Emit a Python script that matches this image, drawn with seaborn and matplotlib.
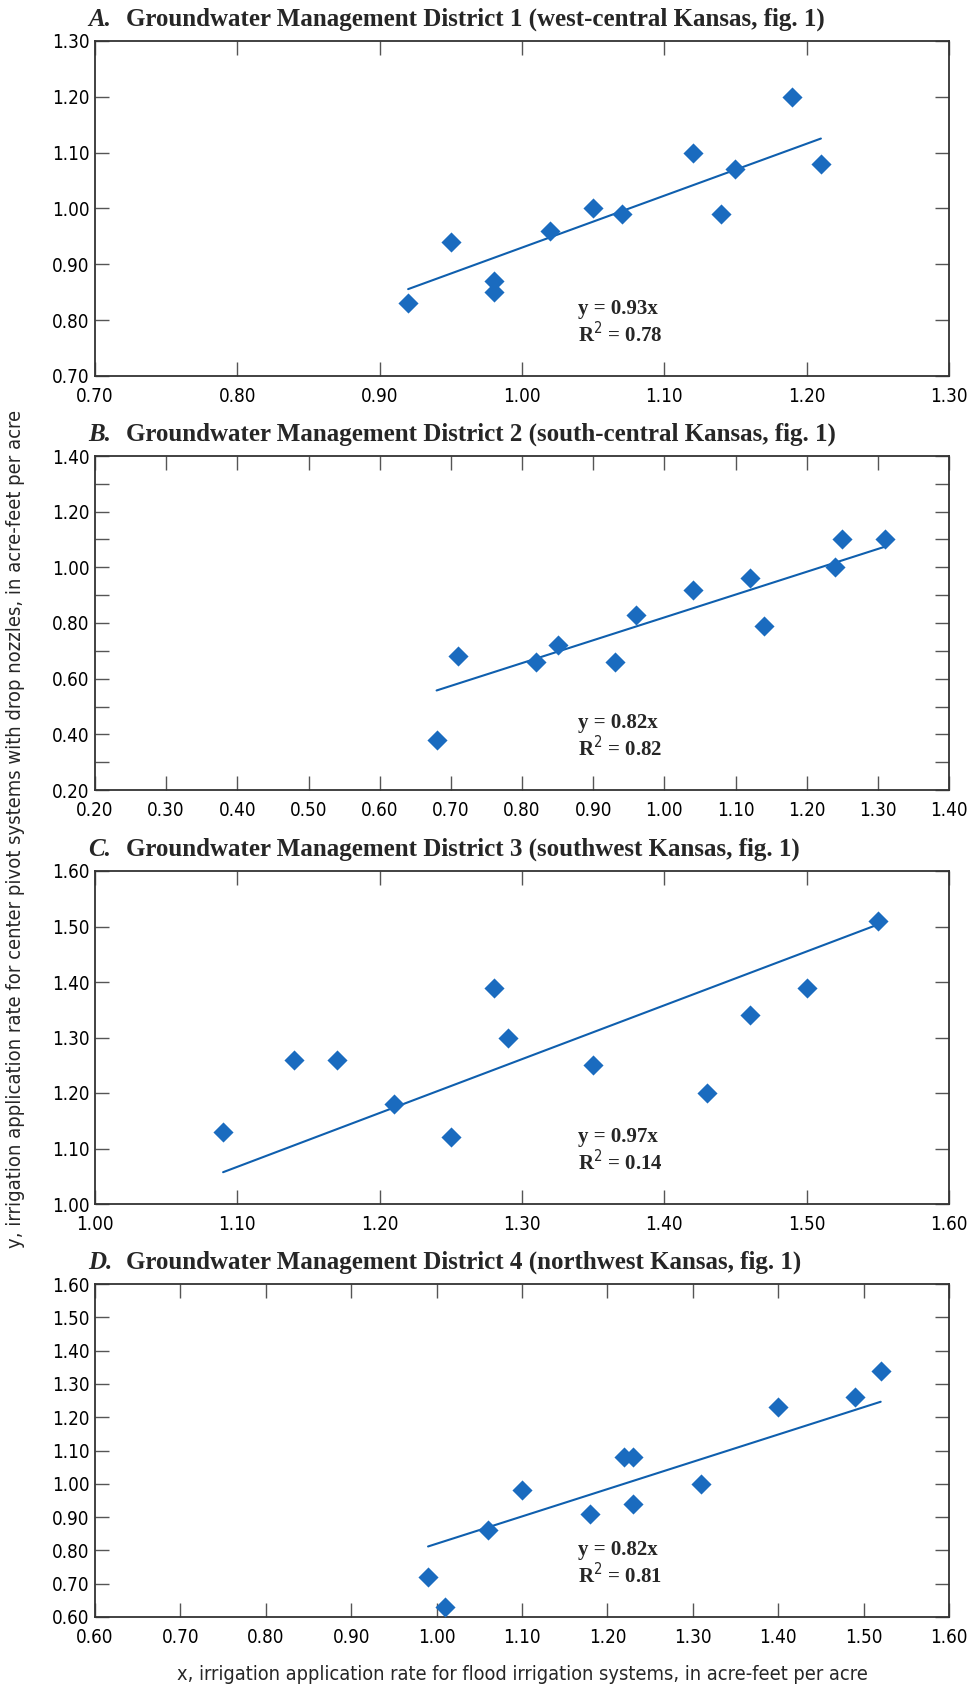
import numpy as np
import pandas as pd
import matplotlib
matplotlib.use("Agg")
import matplotlib.pyplot as plt
from matplotlib.ticker import MultipleLocator, FormatStrFormatter
import seaborn as sns

# data (x = flood, y = center pivot with drop nozzles)
gmd1_x = [0.92, 0.95, 0.98, 0.98, 1.02, 1.05, 1.07, 1.12, 1.14, 1.15, 1.19, 1.21]
gmd1_y = [0.83, 0.94, 0.87, 0.85, 0.96, 1.00, 0.99, 1.10, 0.99, 1.07, 1.20, 1.08]

gmd2_x = [0.68, 0.71, 0.82, 0.85, 0.93, 0.96, 1.04, 1.12, 1.14, 1.24, 1.25, 1.31]
gmd2_y = [0.38, 0.68, 0.66, 0.72, 0.66, 0.83, 0.92, 0.96, 0.79, 1.00, 1.10, 1.10]

gmd3_x = [1.09, 1.14, 1.17, 1.21, 1.25, 1.28, 1.29, 1.35, 1.43, 1.46, 1.50, 1.55]
gmd3_y = [1.13, 1.26, 1.26, 1.18, 1.12, 1.39, 1.30, 1.25, 1.20, 1.34, 1.39, 1.51]

gmd4_x = [0.99, 1.01, 1.06, 1.10, 1.18, 1.22, 1.23, 1.23, 1.31, 1.40, 1.49, 1.52]
gmd4_y = [0.72, 0.63, 0.86, 0.98, 0.91, 1.08, 1.08, 0.94, 1.00, 1.23, 1.26, 1.34]

letters = ["A.", "B.", "C.", "D."]
titles = [
    "Groundwater Management District 1 (west-central Kansas, fig. 1)",
    "Groundwater Management District 2 (south-central Kansas, fig. 1)",
    "Groundwater Management District 3 (southwest Kansas, fig. 1)",
    "Groundwater Management District 4 (northwest Kansas, fig. 1)",
]
slopes = [0.93, 0.82, 0.97, 0.82]
r2 = [0.78, 0.82, 0.14, 0.81]
limits = [(0.7, 1.3), (0.2, 1.4), (1.0, 1.6), (0.6, 1.6)]
ylabel_step = [0.1, 0.2, 0.1, 0.1]

xs = [gmd1_x, gmd2_x, gmd3_x, gmd4_x]
ys = [gmd1_y, gmd2_y, gmd3_y, gmd4_y]

sns.set_style("ticks")
plt.rcParams["font.family"] = ["DejaVu Sans"]
plt.rcParams["font.stretch"] = "condensed"

blue = "#1a6bbf"
line_blue = "#0f5fae"
serif = ["Liberation Serif", "DejaVu Serif"]

fig = plt.figure(figsize=(9.69, 16.88), dpi=100)

# axes boxes in pixels: top, bottom
boxes = [(41, 376), (456, 790), (871, 1204), (1284, 1617)]
left_px, right_px = 95, 949
W, H = 969, 1688

for i in range(4):
    top, bot = boxes[i]
    ax = fig.add_axes([left_px / W, 1 - bot / H, (right_px - left_px) / W, (bot - top) / H])

    df = pd.DataFrame({"x": xs[i], "y": ys[i]})
    sns.scatterplot(data=df, x="x", y="y", marker="D", s=105, color=blue,
                    edgecolor=blue, linewidth=0, ax=ax, zorder=3)

    fit_x = np.array([min(xs[i]), max(xs[i])])
    ax.plot(fit_x, slopes[i] * fit_x, color=line_blue, lw=1.5, zorder=2)

    lo, hi = limits[i]
    ax.set_xlim(lo, hi)
    ax.set_ylim(lo, hi)
    ax.xaxis.set_major_locator(MultipleLocator(0.1))
    ax.yaxis.set_major_locator(MultipleLocator(ylabel_step[i]))
    if ylabel_step[i] > 0.1:
        ax.yaxis.set_minor_locator(MultipleLocator(0.1))
    ax.xaxis.set_major_formatter(FormatStrFormatter("%.2f"))
    ax.yaxis.set_major_formatter(FormatStrFormatter("%.2f"))
    ax.tick_params(which="both", direction="in", top=True, right=True,
                   length=10, width=1.0, color="#555555", labelsize=13.5,
                   labelcolor="black")
    ax.tick_params(axis="x", pad=8)
    ax.tick_params(axis="y", pad=4)
    for sp in ax.spines.values():
        sp.set_linewidth(1.3)
        sp.set_color("#333333")
        sp.set_visible(True)
    ax.set_xlabel("")
    ax.set_ylabel("")

    # panel heading
    ax.text(-0.008, 1.03, letters[i], transform=ax.transAxes, fontsize=18,
            fontweight="bold", fontstyle="italic", family=serif,
            ha="left", va="bottom")
    ax.text(0.036, 1.03, titles[i], transform=ax.transAxes, fontsize=18,
            fontweight="bold", family=serif, ha="left", va="bottom")

    # regression annotation
    ax.text(0.566, 0.20, f"y = {slopes[i]:.2f}x", transform=ax.transAxes,
            fontsize=15, fontweight="bold", family=serif, va="center")
    ax.text(0.566, 0.125, f"R$^2$ = {r2[i]:.2f}", transform=ax.transAxes,
            fontsize=15, fontweight="bold", family=serif, va="center")

fig.text(16 / W, 1 - 829 / H,
         "y, irrigation application rate for center pivot systems with drop nozzles, in acre-feet per acre",
         rotation=90, ha="center", va="center", fontsize=14.5)
fig.text(522 / W, 1 - 1674 / H,
         "x, irrigation application rate for flood irrigation systems, in acre-feet per acre",
         ha="center", va="center", fontsize=14.3)

plt.savefig("out.png", dpi=100)
